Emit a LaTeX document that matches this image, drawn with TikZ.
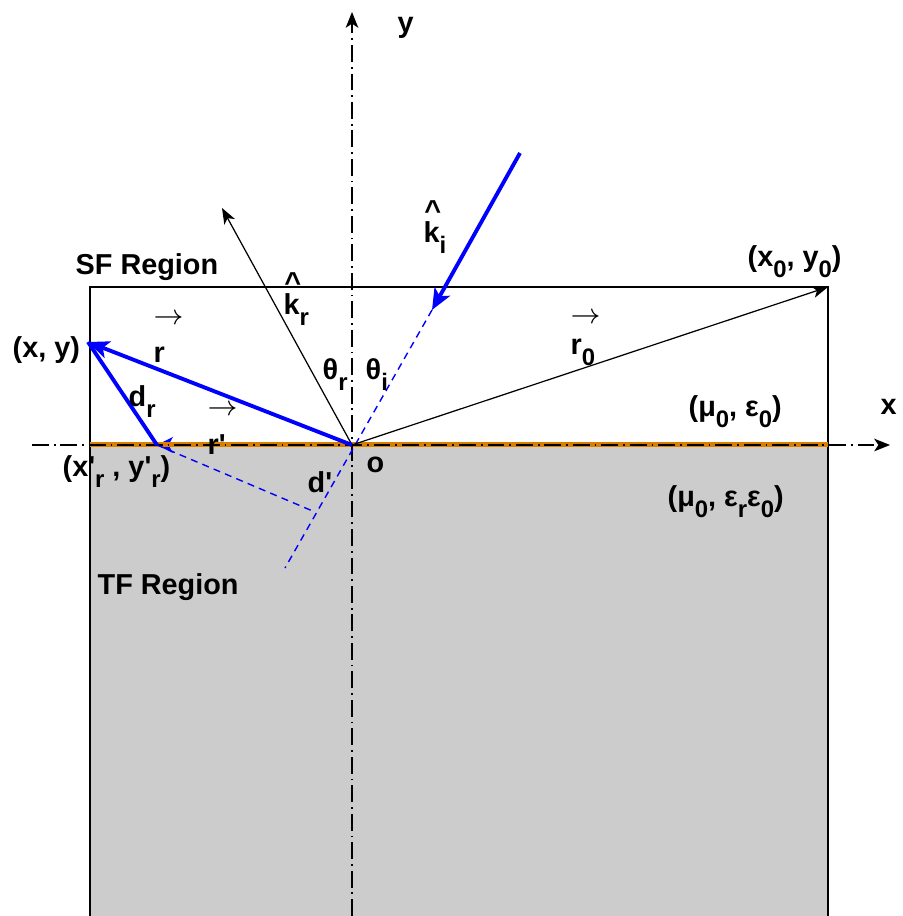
\documentclass[tikz,border=0pt]{standalone}
\usepackage{fontspec}
\setmainfont{Liberation Sans}
\usetikzlibrary{arrows.meta}

\definecolor{wave}{HTML}{0000FF}
\definecolor{ifcorange}{HTML}{DB7F00}
\definecolor{tfgray}{HTML}{CCCCCC}

\newcommand{\lw}[1]{\raisebox{-0.7ex}{\fontsize{6.8}{7}\selectfont #1}}
\newcommand{\prm}{\textquotesingle}
\newcommand{\hatabove}[2]{\makebox[0pt][l]{\hspace{0.2pt}\raisebox{#1}{\textasciicircum}}#2}
\newcommand{\vecabove}[2]{\makebox[0pt][l]{\raisebox{#1}{\mdseries$\rightarrow$}}#2}

\tikzset{
  dashdot/.style={line width=0.4pt, dash pattern=on 4.8pt off 1.4pt on 0.5pt off 1.4pt,
    -{Stealth[length=4.5pt,width=3.6pt,inset=1.2pt]}},
  thinvec/.style={line width=0.35pt, -{Stealth[length=4.5pt,width=3.4pt,inset=1.2pt]}},
  bluevec/.style={wave, line width=1.1pt, -{Stealth[length=6pt,width=5pt,inset=1.5pt]}},
  bluedash/.style={wave, line width=0.4pt, dash pattern=on 2pt off 1.5pt},
  lbl/.style={font=\fontsize{8.2}{9.6}\selectfont\bfseries, inner sep=0pt, anchor=base west},
}

\begin{document}
\begin{tikzpicture}

\useasboundingbox (-3.52,-4.71) rectangle (5.50,4.45);

% Points
\coordinate (O) at (0,0);
\coordinate (xy) at (-2.64,1.03);
\coordinate (rp) at (-1.95,0);
\coordinate (x0y0) at (4.76,1.58);
\coordinate (kr) at (-1.30,2.37);
\coordinate (kiS) at (1.68,2.92);
\coordinate (kiE) at (0.80,1.35);
\coordinate (inc) at (-0.67,-1.23);
\coordinate (foot) at (-0.37,-0.67);

% TF region (grey) and SF box
\fill[tfgray] (-2.62,0) rectangle (4.76,-4.71);
\draw[line width=0.5pt] (-2.62,-4.71) -- (-2.62,1.58) -- (4.76,1.58) -- (4.76,-4.71);

% r' lies on the interface, only its tip shows
\draw[wave, line width=0.4pt, -{Stealth[length=4.5pt,width=4.5pt,inset=1.2pt]}] (O) -- (rp);

% Interface
\fill[ifcorange] (-2.62,-0.025) rectangle (4.76,0.025);

% Axes
\draw[dashdot] (-3.20,0) -- (5.38,0);
\draw[dashdot] (0,-4.71) -- (0,4.33);
\node[lbl] (ylbl) at (0.45,4.12) {y};
\node[lbl] (xlbl) at (5.28,0.30) {x};
\node[lbl] (olbl) at (0.14,-0.28) {o};

% Incident and reflected directions
\draw[bluedash] (kiE) -- (inc);
\draw[bluevec] (kiS) -- (kiE);
\draw[thinvec] (O) -- (kr);
\node[lbl] (kilbl) at (0.71,2.02) {\hatabove{6.5pt}{k}\lw{i}};
\node[lbl] (krlbl) at (-0.69,1.30) {\hatabove{6.5pt}{k}\lw{r}};
\node[lbl] (thr) at (-0.30,0.65) {θ\lw{r}};
\node[lbl] (thi) at (0.13,0.65) {θ\lw{i}};

% Position vectors
\draw[thinvec] (O) -- (x0y0);
\draw[bluevec] (O) -- (xy);
\draw[wave, line width=1.1pt] (xy) -- (rp);
\draw[bluedash] (rp) -- (foot);

\node[lbl] (x0lbl) at (3.95,1.78) {(x\lw{0}, y\lw{0})};
\node[lbl] (r0lbl) at (2.18,0.90) {\vecabove{9pt}{r}\lw{0}};
\node[lbl] (xylbl) at (-3.40,0.87) {(x, y)};
\node[lbl] (rlbl) at (-1.99,0.82) {\vecabove{11pt}{r}};
\node[lbl] (drlbl) at (-2.24,0.38) {d\lw{r}};
\node[lbl] (rplbl) at (-1.45,-0.10) {\vecabove{11.3pt}{r\prm}};
\node[lbl] (xrlbl) at (-2.90,-0.32) {(x\prm\lw{r} , y\prm\lw{r})};
\node[lbl] (dplbl) at (-0.45,-0.48) {d\prm};

% Regions and media
\node[lbl] (sflbl) at (-2.77,1.70) {SF Region};
\node[lbl] (tflbl) at (-2.55,-1.50) {TF Region};
\node[lbl] (med0) at (3.36,0.28) {(μ\lw{0}, ε\lw{0})};
\node[lbl] (med1) at (3.15,-0.62) {(μ\lw{0}, ε\lw{r}ε\lw{0})};

\end{tikzpicture}
\end{document}
